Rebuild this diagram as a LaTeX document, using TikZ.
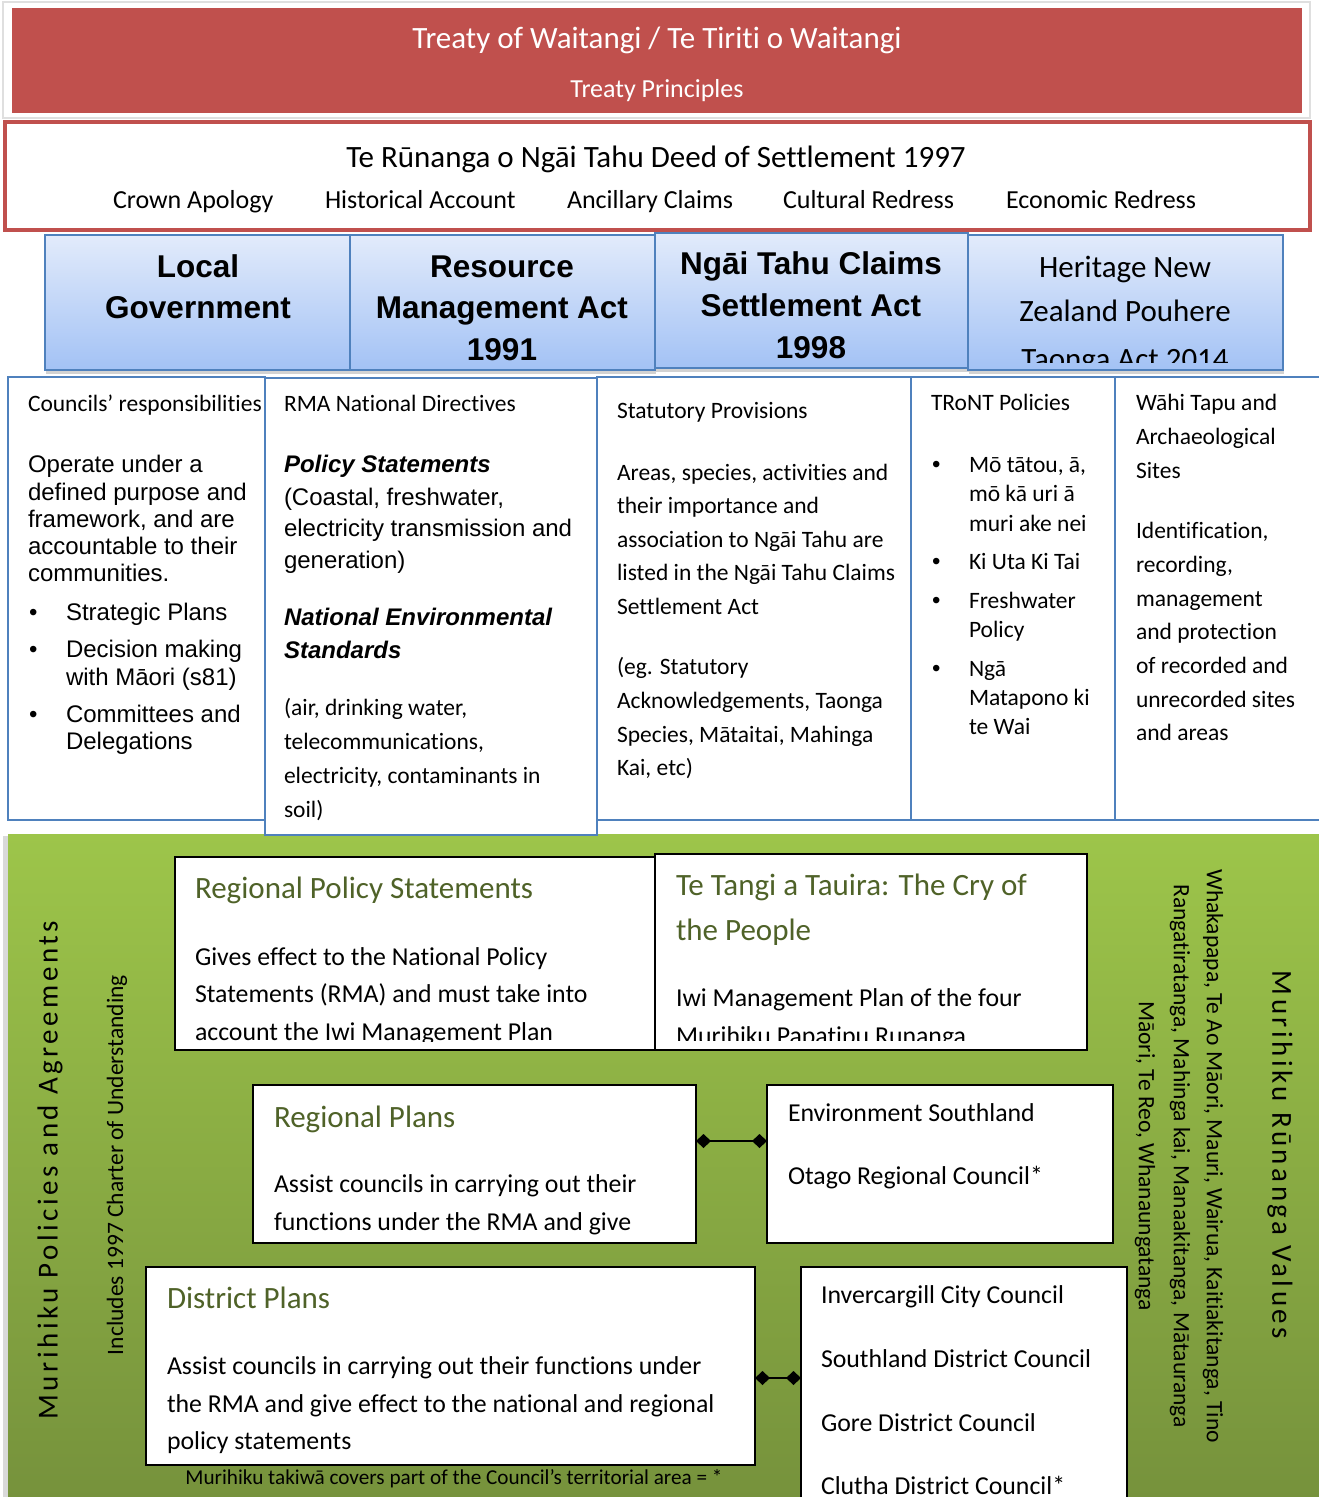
\documentclass[tikz,border=0pt]{standalone}
\usepackage{fontspec}
\setmainfont{Carlito}[RawFeature={-liga}]
\newfontfamily\arialf{Liberation Sans}
\newfontfamily\spacedf[LetterSpace=12,RawFeature={-liga}]{Carlito}
\usetikzlibrary{shadows,arrows.meta}
\definecolor{treatyred}{HTML}{C0504D}
\definecolor{bluebd}{HTML}{4F81BD}
\definecolor{bluetop}{HTML}{E2EBFB}
\definecolor{bluebot}{HTML}{A3C2F5}
\definecolor{greentop}{HTML}{9DC54A}
\definecolor{greenbot}{HTML}{76923C}
\definecolor{titlegreen}{HTML}{4F6228}
\newcommand\fs[2]{\fontsize{#1}{#2}\selectfont}
\begin{document}
\begin{tikzpicture}[x=1pt,y=-1pt,
  box/.style={rectangle, anchor=north west, inner sep=0pt, outer sep=0pt},
  colbox/.style={box, draw=bluebd, fill=white, line width=1.5pt},
  bluebox/.style={box, draw=bluebd, line width=1.5pt, top color=bluetop, bottom color=bluebot,
     drop shadow={shadow xshift=1pt, shadow yshift=-4pt, opacity=0.35}},
  whitebox/.style={box, draw=black, fill=white, line width=2pt},
  tbase/.style={anchor=base west, inner sep=0pt, outer sep=0pt},
  cal/.style={tbase, font=\fs{23.5}{28}},
  ar/.style={tbase, font=\arialf\fs{24}{28}},
  arbi/.style={tbase, font=\arialf\bfseries\itshape\fs{24}{28}},
  body/.style={tbase, font=\fs{25.8}{30}},
  gtitle/.style={tbase, font=\fs{31}{36}, text=titlegreen},
  hbold/.style={anchor=base, inner sep=0pt, font=\arialf\bfseries\fs{31.5}{36}},
  hcal/.style={anchor=base, inner sep=0pt, font=\fs{31}{36}},
  conn/.style={line width=2.2pt, arrows={Diamond[length=15pt,width=14pt]-Diamond[length=15pt,width=14pt]}}
]
\useasboundingbox (0,0) rectangle (1318,1497);
\fill[white] (0,0) rectangle (1318,1497);

% ---------- top banner ----------
\node[box, draw=gray!25, line width=1.2pt, fill=white, minimum width=1307pt, minimum height=116pt] (frame) at (3,2) {};
\node[box, fill=treatyred, minimum width=1290pt, minimum height=105pt] (treaty) at (12,8) {};
\node[anchor=base, inner sep=0pt, text=white, font=\fs{31}{36}] (treatyt) at (657,48) {Treaty of Waitangi / Te Tiriti o Waitangi};
\node[anchor=base, inner sep=0pt, text=white, font=\fs{26}{30}] (treatyp) at (657,97) {Treaty Principles};

% ---------- deed of settlement ----------
\node[box, draw=treatyred, line width=4pt, fill=white, minimum width=1305pt, minimum height=108pt] (deed) at (5,122) {};
\node[anchor=base, inner sep=0pt, font=\fs{31}{36}] (deedt) at (656,167) {Te Rūnanga o Ngāi Tahu Deed of Settlement 1997};
\node[tbase, font=\fs{26}{30}] (d1) at (113,208) {Crown Apology};
\node[tbase, font=\fs{26}{30}] (d2) at (325,208) {Historical Account};
\node[tbase, font=\fs{26}{30}] (d3) at (567,208) {Ancillary Claims};
\node[tbase, font=\fs{26}{30}] (d4) at (783,208) {Cultural Redress};
\node[tbase, font=\fs{26}{30}] (d5) at (1006,208) {Economic Redress};

% ---------- green region ----------
\fill[gray!30] (3,836) rectangle (9,1497);
\node[box, top color=greentop, bottom color=greenbot, minimum width=1315pt, minimum height=665pt] (green) at (8,834) {};

% ---------- columns ----------
\node[colbox, minimum width=257pt, minimum height=443pt] (col1) at (8,377) {};
\node[colbox, minimum width=314pt, minimum height=443pt] (col3) at (597,377) {};
\node[colbox, minimum width=204pt, minimum height=443pt] (col4) at (911,377) {};
\node[colbox, minimum width=215pt, minimum height=443pt] (col5) at (1115,377) {};
\node[colbox, minimum width=332pt, minimum height=457pt] (col2) at (265,378) {};

% column 1
\node[cal] (c1t) at (28,411) {Councils’ responsibilities};
\foreach \yy/\myt [count=\i] in {472/{Operate under a}, 500/{defined purpose and}, 527/{framework, and are}, 554/{accountable to their}, 581/{communities.}}
  \node[ar] (c1a\i) at (28,\yy) {\myt};
\foreach \yy in {620,657,722}
  \node[ar] (c1b\yy) at (29,\yy) {•};
\foreach \yy/\myt [count=\i] in {620/{Strategic Plans}, 657/{Decision making}, 685/{with Māori (s81)}, 722/{Committees and}, 749/{Delegations}}
  \node[ar] (c1c\i) at (66,\yy) {\myt};

% column 2
\node[cal] (c2t) at (284,411) {RMA National Directives};
\node[arbi] (c2ps) at (284,472) {Policy Statements};
\foreach \yy/\myt [count=\i] in {505/{(Coastal, freshwater,}, 536/{electricity transmission and}, 568/{generation)}}
  \node[ar] (c2a\i) at (284,\yy) {\myt};
\node[arbi] (c2ne1) at (284,625) {National Environmental};
\node[arbi] (c2ne2) at (284,658) {Standards};
\foreach \yy/\myt [count=\i] in {715/{(air, drinking water,}, 749/{telecommunications,}, 783/{electricity, contaminants in}, 817/{soil)}}
  \node[cal] (c2b\i) at (284,\yy) {\myt};

% column 3
\node[cal] (c3t) at (617,418) {Statutory Provisions};
\foreach \yy/\myt [count=\i] in {480/{Areas, species, activities and}, 513/{their importance and}, 547/{association to Ngāi Tahu are}, 580/{listed in the Ngāi Tahu Claims}, 614/{Settlement Act}, 674/{(eg. Statutory}, 708/{Acknowledgements, Taonga}, 742/{Species, Mātaitai, Mahinga}, 775/{Kai, etc)}}
  \node[cal] (c3a\i) at (617,\yy) {\myt};

% column 4
\node[cal] (c4t) at (931,410) {TRoNT Policies};
\foreach \yy in {472,569,608,676}
  \node[ar] (c4b\yy) at (932,\yy) {•};
\foreach \yy/\myt [count=\i] in {472/{Mō tātou, ā,}, 501/{mō kā uri ā}, 531/{muri ake nei}, 569/{Ki Uta Ki Tai}, 608/{Freshwater}, 637/{Policy}, 676/{Ngā}, 705/{Matapono ki}, 734/{te Wai}}
  \node[cal] (c4a\i) at (969,\yy) {\myt};

% column 5
\foreach \yy/\myt [count=\i] in {410/{Wāhi Tapu and}, 444/{Archaeological}, 478/{Sites}, 538/{Identification,}, 572/{recording,}, 606/{management}, 639/{and protection}, 673/{of recorded and}, 707/{unrecorded sites}, 740/{and areas}}
  \node[cal] (c5a\i) at (1136,\yy) {\myt};

% ---------- blue header boxes ----------
\node[bluebox, minimum width=305pt, minimum height=135pt] (lg) at (45,235) {};
\node[bluebox, minimum width=305pt, minimum height=135pt] (rma) at (350,235) {};
\node[bluebox, minimum width=313pt, minimum height=135pt] (ntc) at (655,233) {};
\node[bluebox, minimum width=315pt, minimum height=135pt] (hnz) at (968,235) {};
\node[hbold] (lg1) at (198,277) {Local};
\node[hbold] (lg2) at (198,318) {Government};
\node[hbold] (rma1) at (502,277) {Resource};
\node[hbold] (rma2) at (502,318) {Management Act};
\node[hbold] (rma3) at (502,360) {1991};
\node[hbold] (ntc1) at (811,274) {Ngāi Tahu Claims};
\node[hbold] (ntc2) at (811,316) {Settlement Act};
\node[hbold] (ntc3) at (811,358) {1998};
\begin{scope}
  \clip (969,237) rectangle (1282,362);
  \node[hcal] (hnz1) at (1125,277) {Heritage New};
  \node[hcal] (hnz2) at (1125,321) {Zealand Pouhere};
  \node[hcal] (hnz3) at (1125,369) {Taonga Act 2014};
\end{scope}

% ---------- green boxes ----------
\node[whitebox, minimum width=480pt, minimum height=193pt] (rps) at (175,857) {};
\node[whitebox, minimum width=432pt, minimum height=196pt] (ttt) at (655,854) {};
\begin{scope}
  \clip (177,859) rectangle (653,1041);
  \node[gtitle] (rpst) at (195,898) {Regional Policy Statements};
  \node[body] (rps1) at (195,965) {Gives effect to the National Policy};
  \node[body] (rps2) at (195,1002) {Statements (RMA) and must take into};
  \node[body] (rps3) at (195,1040) {account the Iwi Management Plan};
\end{scope}
\begin{scope}
  \clip (657,856) rectangle (1085,1040);
  \node[gtitle] (tttt1) at (676,895) {Te Tangi a Tauira: The Cry of};
  \node[gtitle] (tttt2) at (676,940) {the People};
  \node[body] (ttt1) at (676,1006) {Iwi Management Plan of the four};
  \node[body] (ttt2) at (676,1044) {Murihiku Papatipu Runanga};
\end{scope}

\node[whitebox, minimum width=443pt, minimum height=158pt] (rp) at (253,1085) {};
\node[gtitle] (rpt) at (274,1127) {Regional Plans};
\node[body] (rp1) at (274,1192) {Assist councils in carrying out their};
\node[body] (rp2) at (274,1230) {functions under the RMA and give};

\node[whitebox, minimum width=346pt, minimum height=158pt] (es) at (767,1085) {};
\node[body] (es1) at (788,1121) {Environment Southland};
\node[body] (es2) at (788,1184) {Otago Regional Council*};

\node[whitebox, minimum width=609pt, minimum height=198pt] (dp) at (146,1267) {};
\node[gtitle] (dpt) at (167,1308) {District Plans};
\node[body] (dp1) at (167,1374) {Assist councils in carrying out their functions under};
\node[body] (dp2) at (167,1412) {the RMA and give effect to the national and regional};
\node[body] (dp3) at (167,1449) {policy statements};

\node[whitebox, minimum width=326pt, minimum height=260pt] (cc) at (801,1267) {};
\node[body] (cc1) at (821,1303) {Invercargill City Council};
\node[body] (cc2) at (821,1367) {Southland District Council};
\node[body] (cc3) at (821,1431) {Gore District Council};
\node[body] (cc4) at (821,1494) {Clutha District Council*};

\node[anchor=base, inner sep=0pt, font=\fs{21.2}{24}] (foot) at (454,1484) {Murihiku takiwā covers part of the Council’s territorial area = *};

% connectors
\coordinate (rpc) at (0,1141);
\coordinate (dpc) at (0,1378);
\draw[conn] (rp.east |- rpc) -- (es.west |- rpc);
\draw[conn] (dp.east |- dpc) -- (cc.west |- dpc);

% ---------- vertical texts ----------
\node[rotate=90, inner sep=0pt, font=\spacedf\fs{29}{32}] (mpa) at (50,1170) {Murihiku Policies and Agreements};
\node[rotate=90, inner sep=0pt, font=\fs{23.5}{28}] (inc) at (117,1165) {Includes 1997 Charter of Understanding};
\node[rotate=-90, inner sep=0pt, font=\spacedf\fs{29}{32}] (mrv) at (1280,1155) {Murihiku Rūnanga Values};
\node[rotate=-90, inner sep=0pt, font=\fs{23.5}{28}] (v1) at (1213,1156) {Whakapapa, Te Ao Māori, Mauri, Wairua, Kaitiakitanga, Tino};
\node[rotate=-90, inner sep=0pt, font=\fs{23.5}{28}] (v2) at (1180,1156) {Rangatiratanga, Mahinga kai, Manaakitanga, Mātauranga};
\node[rotate=-90, inner sep=0pt, font=\fs{23.5}{28}] (v3) at (1145,1156) {Māori, Te Reo, Whanaungatanga};
\end{tikzpicture}
\end{document}
